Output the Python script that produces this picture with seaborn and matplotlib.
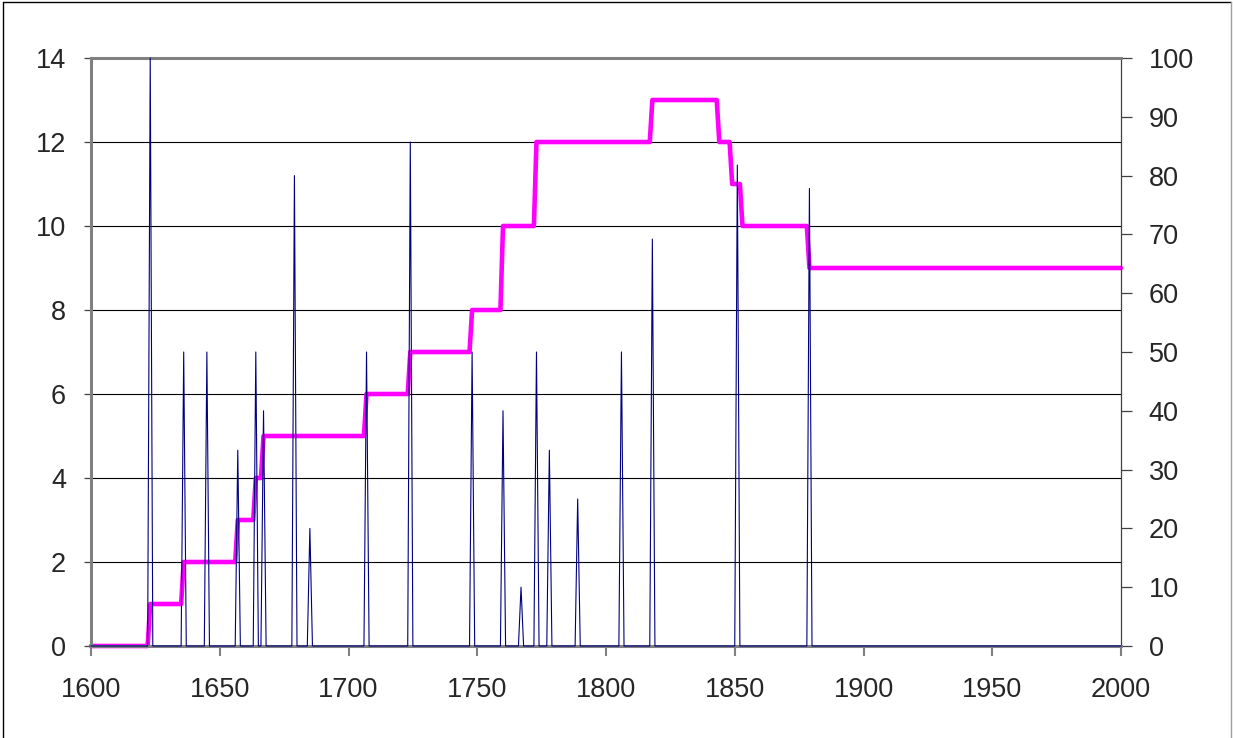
import numpy as np
import pandas as pd
import matplotlib
matplotlib.use("Agg")
import matplotlib.pyplot as plt
from matplotlib.lines import Line2D
import seaborn as sns

# ---- data ----
years_range = [1600, 2000]
# step series (left axis): year when the count changes, and the new count
step_years = [1600, 1623, 1636, 1657, 1664, 1667, 1707, 1724, 1748, 1760, 1773, 1818, 1844, 1849, 1853, 1879]
step_counts = [0, 1, 2, 3, 4, 5, 6, 7, 8, 10, 12, 13, 12, 11, 10, 9]
# spike series (right axis, percent); zero in all other years
spike_years = [1623, 1636, 1645, 1657, 1664, 1667, 1679, 1685, 1707, 1724, 1748,
               1760, 1767, 1773, 1778, 1789, 1806, 1818, 1851, 1879]
spike_pct = [100, 50, 50, 33.3, 50, 40, 80, 20, 50, 85.7, 50,
             40, 10, 50, 33.3, 25, 50, 69.2, 81.8, 77.8]
x_ticks = [1600, 1650, 1700, 1750, 1800, 1850, 1900, 1950, 2000]
left_ticks = [0, 2, 4, 6, 8, 10, 12, 14]
right_ticks = [0, 10, 20, 30, 40, 50, 60, 70, 80, 90, 100]

# annual table built from the lists above
years = np.arange(years_range[0], years_range[1] + 1)
idx = np.searchsorted(step_years, years, side="right") - 1
counts = np.array(step_counts)[idx]
pct = np.zeros(len(years))
for y, v in zip(spike_years, spike_pct):
    pct[years == y] = v
df = pd.DataFrame({"year": years, "count": counts, "pct": pct})

# ---- style ----
sns.set_theme(style="white")
plt.rcParams["font.family"] = ["Liberation Sans", "DejaVu Sans"]
FS = 19.5
plt.rcParams["font.size"] = FS

W, H = 1233, 738
fig = plt.figure(figsize=(W / 100, H / 100), dpi=100)
fig.patch.set_facecolor("white")
ax = fig.add_axes([91 / W, 1 - 646 / H, (1121 - 91) / W, (646 - 58) / H])
ax2 = ax.twinx()

sns.lineplot(data=df, x="year", y="count", ax=ax, color="#FF00FF", lw=3.3,
             clip_on=False, zorder=3)
sns.lineplot(data=df, x="year", y="pct", ax=ax2, color="#000080", lw=0.8,
             clip_on=False, zorder=4)

ax.set_xlim(*years_range)
ax.set_ylim(0, 14)
ax2.set_ylim(0, 100)
ax.set_xticks(x_ticks)
ax.set_yticks(left_ticks)
ax2.set_yticks(right_ticks)
ax.set_xlabel("")
ax.set_ylabel("")
ax2.set_ylabel("")

ax.yaxis.grid(True, color="black", lw=0.8)
ax.xaxis.grid(False)
ax2.grid(False)

for a in (ax, ax2):
    for s in a.spines.values():
        s.set_visible(False)
for name in ("left", "top", "bottom"):
    ax2.spines[name].set_visible(True)
    ax2.spines[name].set_color("#808080")
    ax2.spines[name].set_linewidth(2.2)
ax2.spines["right"].set_visible(True)
ax2.spines["right"].set_color("#404040")
ax2.spines["right"].set_linewidth(0.9)

ax.tick_params(axis="y", direction="out", length=5, width=0.9, color="#404040",
               pad=13, labelsize=FS, left=True)
ax.tick_params(axis="x", direction="out", length=7, width=1.5, color="#808080",
               pad=15, labelsize=FS, bottom=True)
ax2.tick_params(axis="y", direction="out", length=8, width=0.9, color="#404040",
                pad=12, labelsize=FS, right=True)

# outer chart frame
fig.add_artist(Line2D([3 / W, 3 / W], [0, 1 - 2 / H], color="black", lw=1))
fig.add_artist(Line2D([3 / W, 1231 / W], [1 - 2 / H, 1 - 2 / H], color="black", lw=1))
fig.add_artist(Line2D([1231 / W, 1231 / W], [0, 1 - 2 / H], color="#a0a0a0", lw=1))

fig.savefig("out.png", dpi=100, facecolor="white")
